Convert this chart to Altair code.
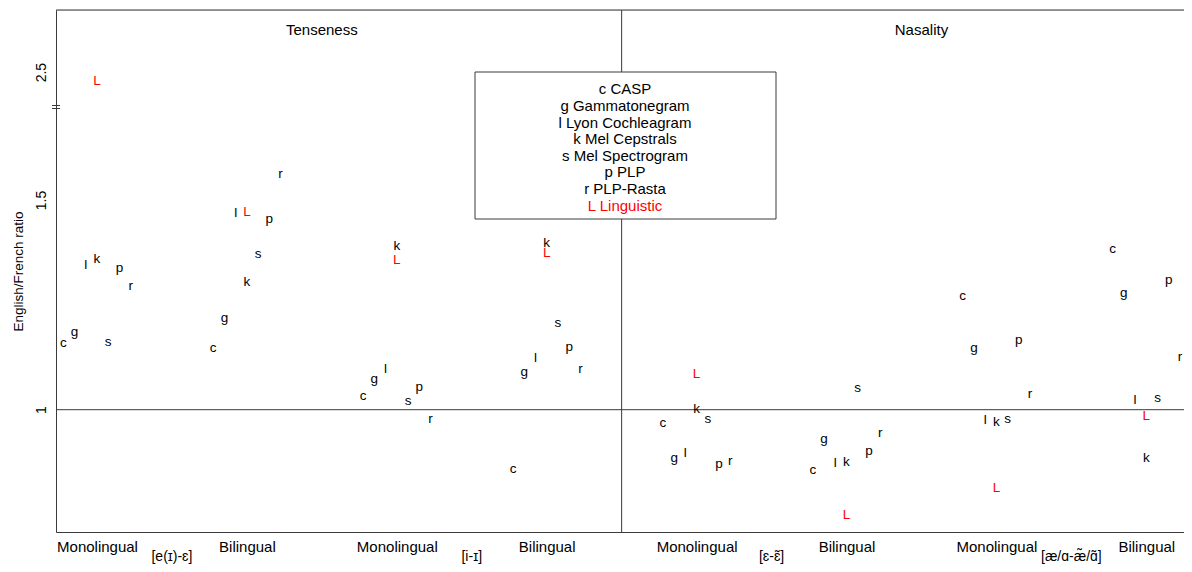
import altair as alt
import pandas as pd

# ---------------- data ----------------
methods = ["c", "g", "l", "k", "s", "p", "r", "L"]
method_names = ["CASP", "Gammatonegram", "Lyon Cochleagram", "Mel Cepstrals",
                "Mel Spectrogram", "PLP", "PLP-Rasta", "Linguistic"]
speaker_groups = ["Monolingual", "Bilingual"] * 4
contrasts = ["[e(ɪ)-ɛ]", "[i-ɪ]", "[ɛ-ɛ̃]", "[æ/ɑ-æ̃/ɑ̃]"]
features = ["Tenseness", "Nasality"]

c_vals = [1.162, 1.150, 1.035, 0.860, 0.971, 0.858, 1.273, 1.385]
g_vals = [1.188, 1.222, 1.075, 1.092, 0.888, 0.932, 1.150, 1.281]
l_vals = [1.347, 1.472, 1.099, 1.126, 0.898, 0.875, 0.977, 1.025]
k_vals = [1.361, 1.308, 1.393, 1.401, 1.003, 0.878, 0.973, 0.887]
s_vals = [1.164, 1.374, 1.022, 1.208, 0.980, 1.055, 0.981, 1.030]
p_vals = [1.340, 1.458, 1.057, 1.153, 0.872, 0.904, 1.169, 1.312]
r_vals = [1.297, 1.565, 0.981, 1.099, 0.880, 0.948, 1.039, 1.129]
L_vals = [2.480, 1.474, 1.359, 1.375, 1.087, 0.751, 0.816, 0.987]

series = dict(zip(methods, [c_vals, g_vals, l_vals, k_vals, s_vals, p_vals, r_vals, L_vals]))

# ---------------- layout / style ----------------
FONT = "Liberation Sans"
W, H = 1128, 522
JITTER = {"c": -3, "g": -2, "l": -1, "k": 0, "L": 0, "s": 1, "p": 2, "r": 3}
STEP = 0.0749
BREAK_AT = 2.0       # values above this are drawn above the axis break
BREAK_SHIFT = 0.695  # amount removed by the axis break
LINE = "#3a3a3a"

rows = []
for m in methods:
    for gi, v in enumerate(series[m]):
        rows.append({"method": m, "group": gi, "ratio": v,
                     "xpos": gi + JITTER[m] * STEP})
df = pd.DataFrame(rows)

xscale = alt.Scale(domain=[-0.2735, 7.2515], nice=False, zero=False)
yscale = alt.Scale(domain=[0.7084, 1.953], nice=False, zero=False)

ypos_expr = f"datum.ratio > {BREAK_AT} ? datum.ratio - {BREAK_SHIFT} : datum.ratio"

points = alt.Chart(df).transform_calculate(ypos=ypos_expr).mark_text(
    font=FONT, fontSize=13.5, baseline="alphabetic", dy=5, align="center"
).encode(
    x=alt.X("xpos:Q", scale=xscale, axis=alt.Axis(
        values=list(range(len(speaker_groups))),
        labelExpr="datum.value % 2 == 0 ? 'Monolingual' : 'Bilingual'",
        ticks=False, tickSize=0, domain=True, domainColor=LINE, domainWidth=1,
        grid=False, title=None,
        labelFont=FONT, labelFontSize=15, labelPadding=7, labelColor="black",
        labelFlush=False, labelOverlap=False)),
    y=alt.Y("ypos:Q", scale=yscale, axis=alt.Axis(
        values=[1.0, 1.5, 2.5 - BREAK_SHIFT],
        labelExpr=f"datum.value > 1.7 ? format(datum.value + {BREAK_SHIFT}, '.1f') : (datum.value == 1 ? '1' : format(datum.value, '.1f'))",
        ticks=False, tickSize=0, domain=True, domainColor=LINE, domainWidth=1,
        grid=False,
        title="English/French ratio",
        labelFont=FONT, labelFontSize=14, labelAngle=-90, labelAlign="center",
        labelBaseline="bottom", labelPadding=8, labelColor="black",
        labelFlush=False, labelOverlap=False,
        titleFont=FONT, titleFontSize=13.5, titleFontWeight="normal",
        titleColor="black", titleAngle=-90, titleX=-38, titleY=H / 2,
        titleAlign="center", titleBaseline="middle")),
    text="method:N",
    color=alt.Color("method:N", scale=alt.Scale(
        domain=methods, range=["black"] * 7 + ["#ff0000"]), legend=None),
)

hline = alt.Chart(pd.DataFrame({"ratio": [1.0]})).mark_rule(
    color=LINE, strokeWidth=1).encode(y=alt.Y("ratio:Q", scale=yscale))

divider = alt.Chart(pd.DataFrame({"pos": [len(speaker_groups) / 2 - 0.5]})).mark_rule(
    color=LINE, strokeWidth=1).encode(x=alt.X("pos:Q", scale=xscale))

top_border = alt.Chart(pd.DataFrame({"a": [0]})).mark_rule(
    color=LINE, strokeWidth=1).encode(x=alt.value(0), x2=alt.value(W), y=alt.value(0))

feature_df = pd.DataFrame({"feature": features, "pos": [1.5, 5.5]})
feature_titles = alt.Chart(feature_df).mark_text(
    font=FONT, fontSize=15, baseline="alphabetic", color="black").encode(
    x=alt.X("pos:Q", scale=xscale), y=alt.value(25), text="feature:N")

contrast_df = pd.DataFrame({"contrast": contrasts, "pos": [0.5, 2.5, 4.5, 6.5]})
contrast_labels = alt.Chart(contrast_df).mark_text(
    font=FONT, fontSize=14, baseline="alphabetic", color="black").encode(
    x=alt.X("pos:Q", scale=xscale), y=alt.value(H + 29), text="contrast:N")

legend_box = alt.Chart(pd.DataFrame({"a": [0]})).mark_rect(
    fill="white", stroke=LINE, strokeWidth=1).encode(
    x=alt.value(419), x2=alt.value(720), y=alt.value(62), y2=alt.value(209))

legend_layers = []
for i, (m, name) in enumerate(zip(methods, method_names)):
    legend_layers.append(
        alt.Chart(pd.DataFrame({"t": [f"{m} {name}"]})).mark_text(
            font=FONT, fontSize=15, baseline="alphabetic", align="center",
            color="#ff0000" if m == "L" else "black").encode(
            x=alt.value(569), y=alt.value(84.3 + i * 16.63), text="t:N"))

break_marks = [
    alt.Chart(pd.DataFrame({"a": [0]})).mark_rule(color=LINE, strokeWidth=1).encode(
        x=alt.value(-4), x2=alt.value(4), y=alt.value(yy))
    for yy in (95.5, 98.5)
]

chart = alt.layer(
    hline, divider, top_border, points, feature_titles, contrast_labels, legend_box,
    *legend_layers, *break_marks
).properties(
    width=W, height=H,
    autosize=alt.AutoSizeParams(type="none"),
    padding={"left": 48, "top": 2, "right": 0, "bottom": 32},
).configure_view(stroke=None).configure(background="white")

chart.save("out.html", embed_options={"renderer": "svg", "actions": False})
